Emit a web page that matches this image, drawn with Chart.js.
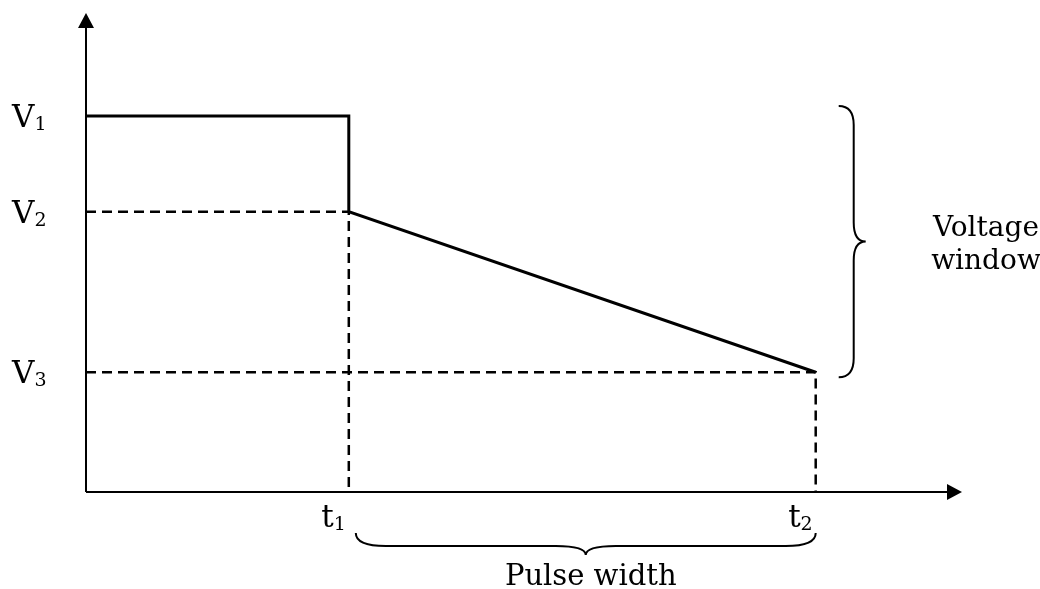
<!DOCTYPE html>
<html>
<head>
<meta charset="utf-8">
<title>Pulse width and voltage window</title>
<script src="https://cdn.jsdelivr.net/npm/chart.js@4.4.1/dist/chart.umd.min.js"></script>
<style>
  html, body { margin: 0; padding: 0; background: #fff; }
  #wrap { width: 1040px; height: 589px; }
</style>
</head>
<body>
<div id="wrap"><canvas id="pulse" width="1040" height="589"></canvas></div>
<script>
// axis ranges (arrow tips sit at the max)
const xMax = 10;
const yMax = 10;

// voltage levels V1, V2, V3 and their subscripts
const levels = [7.85, 5.85, 2.5];
const levelSubs = ['1', '2', '3'];

// time marks t1, t2
const times = [3.0, 8.33];
const timeSubs = ['1', '2'];

// solid pulse shape
const pulseX = [0, times[0], times[0], times[1]];
const pulseY = [levels[0], levels[0], levels[1], levels[2]];

// dashed guides (L shapes from the y axis over to the time mark and down)
const guideV2X = [0, times[0], times[0]];
const guideV2Y = [levels[1], levels[1], 0];
const guideV3X = [0, times[1], times[1]];
const guideV3Y = [levels[2], levels[2], 0];

const windowLabel = ['Voltage', 'window'];
const widthLabel = 'Pulse width';

const toPoints = (xs, ys) => xs.map((x, i) => ({ x: x, y: ys[i] }));

const FONT = '"DejaVu Serif", serif';

// draw a letter with a subscript; align 'left' or 'right' at x
const drawSub = (ctx, main, sub, x, baseline, align) => {
  ctx.font = '31px ' + FONT;
  const wMain = ctx.measureText(main).width;
  ctx.font = '19px ' + FONT;
  const wSub = ctx.measureText(sub).width;
  const left = align === 'right' ? x - wMain - wSub : x;
  ctx.textAlign = 'left';
  ctx.textBaseline = 'alphabetic';
  ctx.font = '31px ' + FONT;
  ctx.fillText(main, left, baseline);
  ctx.font = '19px ' + FONT;
  ctx.fillText(sub, left + wMain, baseline + 3);
};

// curly brace; a = along, d = across (away from the thing it groups)
const drawBrace = (ctx, a0, a1, base, ds, depth, r, vertical) => {
  const P = (a, d) => vertical ? [base + d, a] : [a, base + d];
  const am = (a0 + a1) / 2;
  ctx.beginPath();
  ctx.moveTo(...P(a0, 0));
  ctx.quadraticCurveTo(...P(a0, ds), ...P(a0 + r, ds));
  ctx.lineTo(...P(am - r, ds));
  ctx.quadraticCurveTo(...P(am, ds), ...P(am, depth));
  ctx.quadraticCurveTo(...P(am, ds), ...P(am + r, ds));
  ctx.lineTo(...P(a1 - r, ds));
  ctx.quadraticCurveTo(...P(a1, ds), ...P(a1, 0));
  ctx.stroke();
};

const diagramPlugin = {
  id: 'diagram',
  beforeDatasetsDraw(chart) {
    const ctx = chart.ctx;
    const sx = chart.scales.x, sy = chart.scales.y;
    const ox = sx.getPixelForValue(0), oy = sy.getPixelForValue(0);
    const xTip = sx.getPixelForValue(xMax), yTip = sy.getPixelForValue(yMax);
    const head = 15, half = 8;
    ctx.save();
    ctx.strokeStyle = '#000';
    ctx.fillStyle = '#000';
    ctx.lineWidth = 2;
    ctx.beginPath();
    ctx.moveTo(ox, oy);
    ctx.lineTo(ox, yTip + head);
    ctx.moveTo(ox, oy);
    ctx.lineTo(xTip - head, oy);
    ctx.stroke();
    ctx.beginPath();
    ctx.moveTo(ox, yTip);
    ctx.lineTo(ox - half, yTip + head);
    ctx.lineTo(ox + half, yTip + head);
    ctx.closePath();
    ctx.fill();
    ctx.beginPath();
    ctx.moveTo(xTip, oy);
    ctx.lineTo(xTip - head, oy - half);
    ctx.lineTo(xTip - head, oy + half);
    ctx.closePath();
    ctx.fill();
    ctx.restore();
  },
  afterDatasetsDraw(chart) {
    const ctx = chart.ctx;
    const sx = chart.scales.x, sy = chart.scales.y;
    const oy = sy.getPixelForValue(0);
    ctx.save();
    ctx.fillStyle = '#000';
    ctx.strokeStyle = '#000';

    // V labels left of the y axis
    levels.forEach((v, i) => {
      drawSub(ctx, 'V', levelSubs[i], 12, sy.getPixelForValue(v) + 11, 'left');
    });
    // t labels under the x axis
    times.forEach((t, i) => {
      drawSub(ctx, 't', timeSubs[i], sx.getPixelForValue(t) - 3, oy + 35, 'right');
    });

    // voltage window brace
    const t2px = sx.getPixelForValue(times[1]);
    const top = sy.getPixelForValue(levels[0]) - 10;
    const bottom = sy.getPixelForValue(levels[2]) + 5;
    ctx.lineWidth = 2;
    drawBrace(ctx, top, bottom, t2px + 23, 15, 27, 19, true);

    // pulse width brace
    const t1px = sx.getPixelForValue(times[0]);
    drawBrace(ctx, t1px + 7, t2px, oy + 41, 13, 22, 30, false);

    ctx.font = '28px ' + FONT;
    ctx.textAlign = 'center';
    ctx.textBaseline = 'alphabetic';
    ctx.fillText(windowLabel[0], 986, (top + bottom) / 2 - 6);
    ctx.fillText(windowLabel[1], 986, (top + bottom) / 2 + 27);
    ctx.font = '29px ' + FONT;
    ctx.fillText(widthLabel, (t1px + 7 + t2px) / 2 + 5, oy + 93);
    ctx.restore();
  }
};

new Chart(document.getElementById('pulse'), {
  type: 'scatter',
  data: {
    datasets: [
      {
        label: 'Pulse',
        data: toPoints(pulseX, pulseY),
        showLine: true,
        borderColor: '#000',
        borderWidth: 3,
        borderJoinStyle: 'miter',
        pointRadius: 0,
        tension: 0
      },
      {
        label: 'V2 guide',
        data: toPoints(guideV2X, guideV2Y),
        showLine: true,
        borderColor: '#000',
        borderWidth: 2.5,
        borderDash: [10, 6],
        pointRadius: 0,
        tension: 0
      },
      {
        label: 'V3 guide',
        data: toPoints(guideV3X, guideV3Y),
        showLine: true,
        borderColor: '#000',
        borderWidth: 2.5,
        borderDash: [10, 6],
        pointRadius: 0,
        tension: 0
      }
    ]
  },
  options: {
    responsive: false,
    animation: false,
    layout: { padding: { left: 86, right: 78, top: 13, bottom: 97 } },
    plugins: {
      legend: { display: false },
      tooltip: { enabled: false }
    },
    scales: {
      x: { type: 'linear', min: 0, max: xMax, display: false },
      y: { type: 'linear', min: 0, max: yMax, display: false }
    }
  },
  plugins: [diagramPlugin]
});
</script>
</body>
</html>
